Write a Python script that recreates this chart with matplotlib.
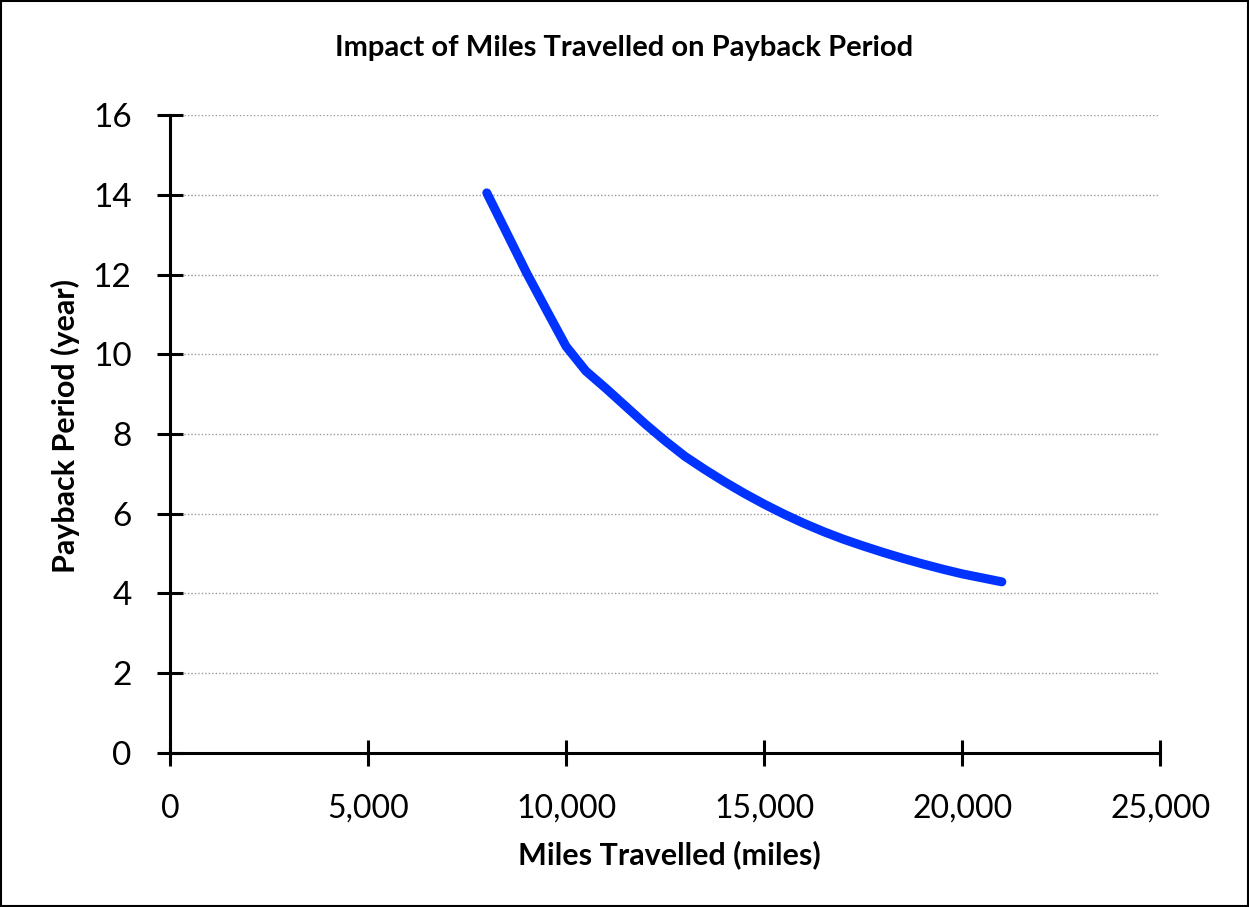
import matplotlib
matplotlib.use("Agg")
import matplotlib.pyplot as plt
from matplotlib.patches import Rectangle
from matplotlib.ticker import FuncFormatter

# values
miles = [8000, 8500, 9000, 9500, 10000, 10500, 11000, 11500, 12000, 12500,
         13000, 13500, 14000, 14500, 15000, 15500, 16000, 16500, 17000,
         17500, 18000, 18500, 19000, 19500, 20000, 20500, 21000]
payback = [14.05, 13.05, 12.05, 11.12, 10.2, 9.58, 9.15, 8.70, 8.25, 7.83,
           7.44, 7.11, 6.80, 6.51, 6.24, 5.99, 5.76, 5.55, 5.36,
           5.19, 5.03, 4.88, 4.74, 4.61, 4.49, 4.39, 4.29]

x_ticks = [0, 5000, 10000, 15000, 20000, 25000]
y_ticks = [0, 2, 4, 6, 8, 10, 12, 14, 16]

plt.rcParams['font.family'] = ['Lato', 'DejaVu Sans']

fig = plt.figure(figsize=(12.49, 9.07), dpi=100, facecolor='white')
ax = fig.add_axes([0.136, 0.170, 0.793, 0.703])

ax.plot(miles, payback, color='#0033FF', lw=6.5, solid_capstyle='round',
        solid_joinstyle='round', zorder=3)

ax.set_xlim(0, 25000)
ax.set_ylim(0, 16)
ax.set_xticks(x_ticks)
ax.set_yticks(y_ticks)
ax.xaxis.set_major_formatter(FuncFormatter(lambda v, p: f"{int(v):,}"))

for s in ['top', 'right']:
    ax.spines[s].set_visible(False)
for s in ['left', 'bottom']:
    ax.spines[s].set_linewidth(2.2)
    ax.spines[s].set_color('black')
    ax.spines[s].set_zorder(4)

ax.tick_params(axis='both', direction='inout', length=19, width=2.2,
               colors='black')
ax.tick_params(axis='y', labelsize=24, pad=18)
ax.tick_params(axis='x', labelsize=23, pad=20)

ax.yaxis.grid(True, linestyle=(0, (1, 1.5)), color='#999999', lw=1)
ax.set_axisbelow(True)

fig.text(0.5, 1 - 48 / 907, "Impact of Miles Travelled on Payback Period",
         fontsize=21, fontweight='bold', ha='center', va='center')
fig.text(0.536, 1 - 855 / 907, "Miles Travelled (miles)", fontsize=22,
         fontweight='bold', ha='center', va='center')
fig.text(65 / 1249, 1 - 426 / 907, "Payback Period (year)", fontsize=22,
         fontweight='bold', ha='center', va='center', rotation=90)

fig.patches.append(Rectangle((0.001, 0.001), 0.998, 0.998, transform=fig.transFigure,
                             fill=False, edgecolor='black', lw=1.5))

fig.savefig("out.png", dpi=100, facecolor='white')
